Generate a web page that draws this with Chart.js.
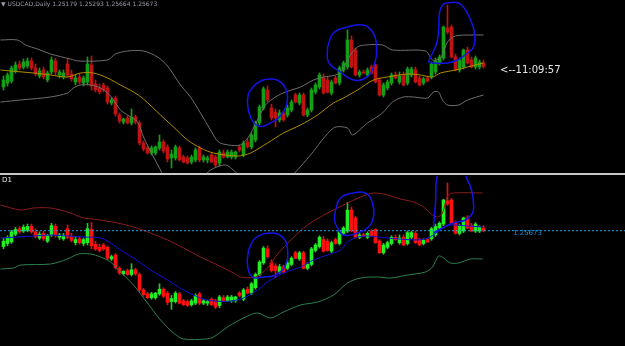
<!DOCTYPE html>
<html><head><meta charset="utf-8">
<script src="https://cdn.jsdelivr.net/npm/chart.js@4"></script>
<style>
html,body{margin:0;padding:0;background:#000;width:625px;height:346px;overflow:hidden;}
#top{position:absolute;left:0;top:0;width:625px;height:173px;}
#bot{position:absolute;left:0;top:176px;width:625px;height:170px;}
#sep{position:absolute;left:0;top:173px;width:625px;height:2px;background:#c8c8c8;}
.t{position:absolute;font-family:"DejaVu Sans",sans-serif;white-space:nowrap;line-height:1;}
</style></head><body>
<div id="top"><canvas id="c1" width="625" height="173"></canvas></div>
<div id="sep"></div>
<div id="bot"><canvas id="c2" width="625" height="170"></canvas></div>
<div class="t" style="left:1px;top:1px;font-size:6px;color:#9a9aa8;">▼ USDCAD,Daily 1.25179 1.25293 1.25664 1.25673</div>
<div class="t" style="left:500px;top:65px;font-size:10px;color:#e8e8e8;">&lt;--11:09:57</div>
<div class="t" style="left:2px;top:177px;font-size:7px;color:#e8e8e8;">D1</div>
<div class="t" style="left:513px;top:230px;font-size:7px;color:#1e8fd8;">1.25673</div>
<script>
// ---- daily OHLC (same series in both windows) ----
const open  = [1.2465,1.2485,1.2495,1.2545,1.2580,1.2565,1.2570,1.2595,1.2560,1.2520,1.2550,1.2500,1.2540,1.2595,1.2525,1.2515,1.2580,1.2530,1.2490,1.2515,1.2485,1.2490,1.2575,1.2480,1.2460,1.2475,1.2460,1.2385,1.2410,1.2325,1.2290,1.2310,1.2285,1.2315,1.2285,1.2185,1.2160,1.2135,1.2135,1.2160,1.2190,1.2165,1.2110,1.2110,1.2160,1.2115,1.2110,1.2090,1.2100,1.2160,1.2100,1.2100,1.2125,1.2115,1.2085,1.2135,1.2115,1.2115,1.2115,1.2165,1.2125,1.2190,1.2165,1.2200,1.2285,1.2360,1.2450,1.2360,1.2340,1.2300,1.2335,1.2325,1.2350,1.2425,1.2385,1.2425,1.2325,1.2350,1.2440,1.2465,1.2510,1.2500,1.2435,1.2510,1.2485,1.2550,1.2565,1.2700,1.2650,1.2525,1.2540,1.2525,1.2565,1.2575,1.2500,1.2425,1.2460,1.2485,1.2525,1.2490,1.2525,1.2485,1.2525,1.2550,1.2510,1.2485,1.2510,1.2515,1.2540,1.2585,1.2610,1.2760,1.2765,1.2615,1.2550,1.2565,1.2650,1.2600,1.2565,1.2565,1.2585];
const high  = [1.2520,1.2535,1.2570,1.2590,1.2595,1.2605,1.2610,1.2610,1.2580,1.2560,1.2565,1.2545,1.2615,1.2610,1.2550,1.2550,1.2605,1.2550,1.2525,1.2530,1.2520,1.2615,1.2620,1.2500,1.2480,1.2485,1.2470,1.2410,1.2420,1.2335,1.2310,1.2320,1.2355,1.2325,1.2295,1.2195,1.2170,1.2170,1.2170,1.2225,1.2200,1.2175,1.2150,1.2175,1.2170,1.2125,1.2120,1.2125,1.2160,1.2170,1.2125,1.2120,1.2135,1.2125,1.2150,1.2150,1.2150,1.2150,1.2145,1.2175,1.2195,1.2205,1.2235,1.2295,1.2375,1.2465,1.2470,1.2380,1.2355,1.2350,1.2345,1.2375,1.2400,1.2435,1.2435,1.2435,1.2360,1.2460,1.2485,1.2535,1.2530,1.2515,1.2500,1.2520,1.2570,1.2595,1.2750,1.2720,1.2660,1.2550,1.2550,1.2560,1.2575,1.2580,1.2510,1.2485,1.2500,1.2535,1.2540,1.2540,1.2540,1.2565,1.2565,1.2565,1.2520,1.2515,1.2520,1.2590,1.2610,1.2625,1.2770,1.2875,1.2775,1.2630,1.2610,1.2655,1.2665,1.2615,1.2620,1.2600,1.2600];
const low   = [1.2450,1.2470,1.2485,1.2535,1.2550,1.2555,1.2560,1.2550,1.2520,1.2510,1.2505,1.2490,1.2530,1.2525,1.2510,1.2505,1.2515,1.2495,1.2475,1.2480,1.2470,1.2475,1.2450,1.2440,1.2430,1.2440,1.2380,1.2375,1.2320,1.2285,1.2280,1.2280,1.2275,1.2280,1.2175,1.2145,1.2130,1.2125,1.2125,1.2150,1.2135,1.2090,1.2060,1.2100,1.2095,1.2085,1.2080,1.2080,1.2090,1.2090,1.2090,1.2085,1.2085,1.2065,1.2070,1.2110,1.2110,1.2105,1.2105,1.2140,1.2115,1.2160,1.2155,1.2190,1.2275,1.2350,1.2390,1.2300,1.2265,1.2290,1.2295,1.2315,1.2340,1.2385,1.2375,1.2320,1.2315,1.2340,1.2430,1.2455,1.2430,1.2435,1.2425,1.2480,1.2475,1.2540,1.2555,1.2560,1.2520,1.2515,1.2530,1.2515,1.2530,1.2485,1.2420,1.2415,1.2450,1.2475,1.2505,1.2480,1.2470,1.2475,1.2515,1.2485,1.2470,1.2475,1.2490,1.2505,1.2530,1.2575,1.2600,1.2730,1.2610,1.2545,1.2540,1.2555,1.2580,1.2560,1.2555,1.2555,1.2560];
const close = [1.2500,1.2525,1.2560,1.2575,1.2560,1.2590,1.2595,1.2560,1.2530,1.2545,1.2515,1.2535,1.2600,1.2540,1.2540,1.2535,1.2525,1.2505,1.2510,1.2490,1.2510,1.2580,1.2470,1.2450,1.2440,1.2450,1.2390,1.2400,1.2330,1.2295,1.2305,1.2285,1.2315,1.2290,1.2185,1.2155,1.2135,1.2160,1.2165,1.2190,1.2145,1.2105,1.2130,1.2165,1.2100,1.2090,1.2085,1.2115,1.2150,1.2100,1.2115,1.2110,1.2090,1.2075,1.2140,1.2115,1.2140,1.2140,1.2140,1.2150,1.2185,1.2165,1.2225,1.2285,1.2365,1.2455,1.2400,1.2310,1.2310,1.2335,1.2300,1.2360,1.2390,1.2390,1.2425,1.2325,1.2350,1.2450,1.2475,1.2525,1.2435,1.2440,1.2490,1.2485,1.2560,1.2585,1.2700,1.2565,1.2525,1.2540,1.2535,1.2550,1.2535,1.2490,1.2425,1.2475,1.2490,1.2525,1.2510,1.2520,1.2475,1.2555,1.2555,1.2490,1.2475,1.2505,1.2495,1.2580,1.2595,1.2615,1.2765,1.2740,1.2615,1.2550,1.2600,1.2650,1.2585,1.2565,1.2610,1.2590,1.2567];

// ---- top window indicators: [bar index, price] ----
const topUpper = [[-0.75,1.2700],[3.5,1.2700],[5.5,1.2675],[8.5,1.2655],[11.75,1.2630],[16.75,1.2605],[18.75,1.2595],[26,1.2600],[28,1.2630],[31,1.2645],[35,1.2645],[38.5,1.2615],[41,1.2570],[44.25,1.2475],[46.75,1.2415],[49.25,1.2335],[51.75,1.2250],[53.75,1.2190],[56.25,1.2175],[59.25,1.2175],[61.25,1.2215],[63.25,1.2290],[65.5,1.2375],[68,1.2415],[70.5,1.2440],[74.25,1.2465],[77.5,1.2500],[80,1.2515],[83,1.2525],[84.75,1.2550],[86.25,1.2610],[88.5,1.2665],[90.5,1.2675],[94.75,1.2675],[97.25,1.2650],[105.5,1.2645],[107.25,1.2600],[109.25,1.2610],[111,1.2690],[113,1.2720],[116.75,1.2725],[120,1.2725]];
const topLower = [[-0.75,1.2390],[4.25,1.2400],[11.75,1.2415],[16,1.2435],[17.5,1.2460],[19.25,1.2475],[21.75,1.2475],[24.25,1.2460],[26.75,1.2420],[29.25,1.2350],[31,1.2325],[33.5,1.2290],[35,1.2215],[37.5,1.2115],[39.25,1.2050],[40.5,1.2000],[46.75,1.1925],[50,1.2010],[51.75,1.2050],[55.5,1.2075],[58,1.2040],[61.75,1.1975],[69.25,1.1975],[73,1.2040],[76.75,1.2125],[82.5,1.2260],[86,1.2260],[87.25,1.2225],[91,1.2285],[94.75,1.2335],[97.25,1.2390],[100,1.2415],[102.5,1.2415],[106,1.2410],[107.5,1.2440],[108.75,1.2440],[109.75,1.2400],[111,1.2375],[113.75,1.2375],[116,1.2400],[120,1.2425]];
const topMA = [[-0.75,1.2550],[1.75,1.2545],[7.5,1.2535],[11.75,1.2525],[16,1.2515],[19.25,1.2535],[22.5,1.2535],[26,1.2510],[29.25,1.2475],[32.5,1.2440],[35,1.2405],[39.25,1.2325],[42.5,1.2265],[46,1.2200],[49.25,1.2160],[52.5,1.2135],[58.5,1.2120],[61.75,1.2135],[66,1.2185],[70,1.2235],[74.25,1.2275],[78.5,1.2325],[82.5,1.2385],[85,1.2410],[88.5,1.2450],[92.5,1.2500],[96,1.2515],[101,1.2530],[104.25,1.2525],[107.25,1.2515],[109.25,1.2535],[113,1.2550],[116,1.2565],[120,1.2585]];

// ---- bottom window indicators ----
const botUpper = [[-0.75,1.27331],[4.25,1.27009],[7.5,1.27138],[11.75,1.27138],[16,1.26880],[20,1.26493],[22.5,1.26428],[28.5,1.26170],[32.5,1.25912],[36.75,1.25525],[41,1.25074],[45,1.24558],[49.25,1.23977],[53.5,1.23461],[57.5,1.22945],[59.25,1.22687],[63,1.22687],[66,1.23268],[68.75,1.24235],[75,1.25848],[79.25,1.26557],[82.5,1.27009],[86,1.27460],[89.25,1.27847],[92.5,1.28105],[96,1.27976],[99.25,1.27718],[102.5,1.27525],[105,1.27202],[107.25,1.26686],[108.5,1.26557],[109.75,1.26815],[111,1.27912],[112.5,1.28105],[119.75,1.28105]];
const botMid = [[-0.75,1.25203],[3.5,1.25267],[7.5,1.25332],[11.75,1.25396],[16,1.25332],[20,1.25267],[24.25,1.25203],[26.75,1.24880],[30,1.24300],[32.5,1.23913],[36.75,1.23139],[41,1.22494],[45,1.21849],[49.25,1.21333],[52.5,1.21139],[56.75,1.21139],[60,1.21333],[63.5,1.21849],[66,1.22365],[70,1.22945],[74.25,1.23332],[77.5,1.23784],[81,1.24106],[84.25,1.24429],[86,1.24945],[88.5,1.25267],[91,1.25332],[96,1.25203],[103.5,1.25074],[106,1.25203],[107.5,1.25396],[109.75,1.25848],[111.75,1.26041],[116,1.25977],[119.75,1.25912]];
const botLower = [[-0.75,1.23203],[2.5,1.23268],[4.25,1.23461],[11.75,1.23526],[16,1.23848],[18.75,1.24171],[21.75,1.24171],[24.25,1.23977],[26.75,1.23655],[29.25,1.23010],[32.5,1.22171],[36,1.21010],[39.25,1.19914],[42.5,1.19075],[45,1.18688],[50.5,1.18688],[52.5,1.18817],[56,1.19462],[60,1.20043],[63.5,1.20365],[66.75,1.20043],[70,1.20430],[74.25,1.20881],[78.5,1.21075],[82.5,1.21526],[86,1.22300],[89.25,1.22623],[93.5,1.22687],[96.75,1.22623],[101,1.22816],[105.5,1.23010],[107.25,1.23332],[108.75,1.24042],[110,1.23913],[111.75,1.23590],[113.75,1.23590],[116.75,1.23848],[119.75,1.23848]];
const bidPrice = 1.25673;

// ---- hand-drawn blue marks ----
const topMarks = [
 [[61.25,1.2435],[63.5,1.2485],[67.25,1.2505],[70,1.2475],[71,1.2410],[69.75,1.2335],[66.75,1.2285],[63.75,1.2270],[61.75,1.2315],[61,1.2385],[61.25,1.2435]],
 [[81,1.2665],[82.5,1.2735],[86,1.2765],[90,1.2775],[92.25,1.2740],[93.25,1.2665],[92.5,1.2565],[90.5,1.2510],[87.5,1.2500],[84.25,1.2540],[81.25,1.2590],[81,1.2665]],
 [[106.25,1.2590],[108.5,1.2700],[109,1.2835],[109.75,1.2875],[111,1.2885],[113.75,1.2885],[115.5,1.2850],[116.75,1.2800],[117.75,1.2735],[117.5,1.2665],[116,1.2635],[113.5,1.2600],[111,1.2585],[107.5,1.2585],[106.25,1.2590]]
];
const botMarks = [
 [[61.25,1.24429],[63,1.25203],[67.25,1.25525],[70,1.25203],[71,1.24429],[70.5,1.23461],[68,1.22816],[64.75,1.22687],[62.25,1.22687],[61,1.23461],[61.25,1.24429]],
 [[83,1.27009],[84.25,1.27783],[87.5,1.28105],[90.5,1.28105],[92.25,1.27460],[92.5,1.26557],[91.25,1.25912],[88.5,1.25525],[85,1.25396],[83.5,1.25848],[82.75,1.26364],[83,1.27009]],
 [[107.5,1.25912],[108,1.27460],[108.5,1.29266],[110,1.29460],[114.75,1.29460],[116,1.28944],[117,1.28299],[117.5,1.27460],[117.25,1.26815],[115.5,1.26364],[112.5,1.26170],[109.75,1.25848],[107.5,1.25525]]
];

const XMIN = -0.875, XMAX = 155.375;

function candleSets(bull, bear, wickBull, wickBear){
  const body = close.map((c,i)=> c>=open[i]?bull:bear);
  const wick = close.map((c,i)=> c>=open[i]?wickBull:wickBear);
  return [
    {type:'bar', data: open.map((o,i)=>({x:i,y:[low[i],high[i]]})), backgroundColor: wick, barThickness:1, grouped:false, order:6, minBarLength:1},
    {type:'bar', data: open.map((o,i)=>({x:i,y:[o,close[i]]})), backgroundColor: body, barThickness:3, grouped:false, order:5, minBarLength:1}
  ];
}
function lineSet(pts, color, order, extra){
  return Object.assign({type:'line', data: pts.map(p=>({x:p[0],y:p[1]})), borderColor:color, borderWidth:1,
    pointRadius:0, tension:0.3, fill:false, order:order}, extra||{});
}
function opts(ymin, ymax){
  return {responsive:false, animation:false, events:[],
    layout:{padding:0},
    plugins:{legend:{display:false}, tooltip:{enabled:false}},
    scales:{
      x:{type:'linear', min:XMIN, max:XMAX, display:false, offset:false, grid:{display:false}},
      y:{type:'linear', min:ymin, max:ymax, display:false, grid:{display:false}}
    }};
}

new Chart(document.getElementById('c1'), {
  type:'bar',
  data:{datasets:[
    ...candleSets('#14a014','#c01212','#14a014','#c01212'),
    lineSet(topUpper,'#6e6e6e',3),
    lineSet(topLower,'#6e6e6e',3),
    lineSet(topMA,'#b08c00',2),
    ...topMarks.map(m=>lineSet(m,'#1414e6',0,{borderWidth:1.5,tension:0.45}))
  ]},
  options: opts(1.2035, 1.2900)
});

new Chart(document.getElementById('c2'), {
  type:'bar',
  data:{datasets:[
    ...candleSets('#22f022','#ff1010','#22c822','#e01010'),
    lineSet([[XMIN,bidPrice],[XMAX,bidPrice]],'#1ea0e6',1,{borderDash:[2,2],tension:0}),
    lineSet(botUpper,'#8a1c1c',3),
    lineSet(botMid,'#1010dc',3),
    lineSet(botLower,'#2e8050',3),
    ...botMarks.map(m=>lineSet(m,'#1414e6',0,{borderWidth:1.5,tension:0.45}))
  ]},
  options: opts(1.18237, 1.29202)
});
</script>
</body></html>
